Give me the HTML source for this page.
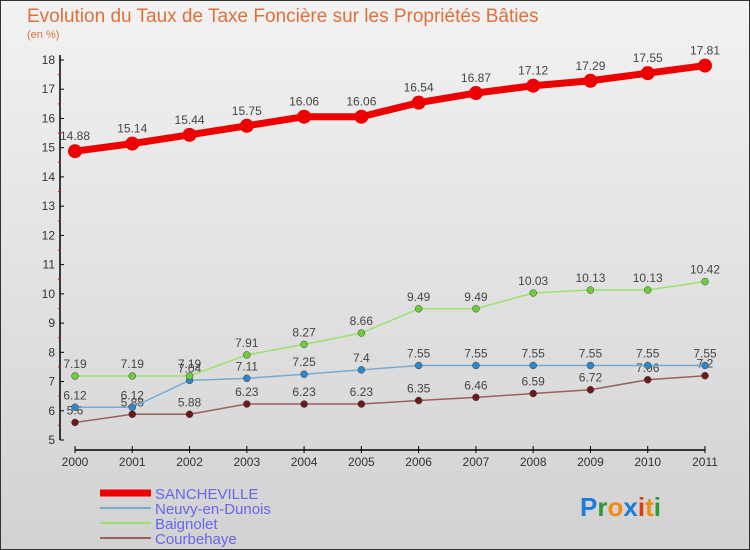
<!DOCTYPE html>
<html><head><meta charset="utf-8"><style>
body{margin:0;}
#wrap{width:750px;height:550px;position:relative;box-sizing:border-box;border:1px solid #333;background:linear-gradient(#f2f2f2,#d2d2d2);font-family:"Liberation Sans",sans-serif;overflow:hidden}
</style></head><body>
<div id="wrap">
<svg id="chart" width="750" height="550" style="position:absolute;left:-1px;top:-1px">
<text x="27" y="22" font-size="19" fill="#e0703a">Evolution du Taux de Taxe Foncière sur les Propriétés Bâties</text>
<text x="27" y="38" font-size="11" fill="#e0703a">(en %)</text>
<g id="axes"></g><g id="series"></g><g id="legend"></g>
<text x="580" y="516" font-size="26" font-weight="bold"><tspan fill="#1e7bd8">P</tspan><tspan fill="#2a9a3a">r</tspan><tspan fill="#f08a10">o</tspan><tspan fill="#1e7bd8">x</tspan><tspan fill="#e53a10">i</tspan><tspan fill="#f08a10">t</tspan><tspan fill="#2a9a3a">i</tspan></text>
</svg>
</div>
<script>
const years=["2000","2001","2002","2003","2004","2005","2006","2007","2008","2009","2010","2011"];
const yTicks=[5,6,7,8,9,10,11,12,13,14,15,16,17,18];
const sancheville=[14.88,15.14,15.44,15.75,16.06,16.06,16.54,16.87,17.12,17.29,17.55,17.81];
const neuvy=[6.12,6.12,7.04,7.11,7.25,7.4,7.55,7.55,7.55,7.55,7.55,7.55];
const baignolet=[7.19,7.19,7.19,7.91,8.27,8.66,9.49,9.49,10.03,10.13,10.13,10.42];
const courbehaye=[5.6,5.88,5.88,6.23,6.23,6.23,6.35,6.46,6.59,6.72,7.06,7.2];
const NS="http://www.w3.org/2000/svg";
function xs(i){return 75+i*(630/(years.length-1));}
function ys(v){return 440-(v-5)*29.23;}
function mk(t,a,p){const e=document.createElementNS(NS,t);for(const k in a)e.setAttribute(k,a[k]);p.appendChild(e);return e;}
const ax=document.getElementById('axes');
let l=mk('line',{x1:60,y1:ys(18)-5,x2:60,y2:ys(5),stroke:'#000','stroke-width':1.5},ax);


l=mk('line',{x1:xs(0),y1:450,x2:xs(11),y2:450,stroke:'#000','stroke-width':1.5},ax);


yTicks.forEach((v,i)=>{
 mk('line',{x1:60,y1:ys(v),x2:64,y2:ys(v),stroke:'#000'},ax);
 if(i<yTicks.length-1)mk('line',{x1:58,y1:ys(v+0.5),x2:61,y2:ys(v+0.5),stroke:'#e00'},ax);
 const t=mk('text',{x:55,y:ys(v)+4,'font-size':12,'text-anchor':'end',fill:'#333'},ax);
 t.textContent=v;
 
 
});
years.forEach((y,i)=>{
 mk('line',{x1:xs(i),y1:446,x2:xs(i),y2:453,stroke:'#000'},ax);
 const t=mk('text',{x:xs(i),y:466,'font-size':12,'text-anchor':'middle',fill:'#333'},ax);
 t.textContent=y;
 
 
});
const se=document.getElementById('series');
const defs=[["courbehaye",courbehaye,'#9a6060','#6a1a1a',1.5,3.5],["neuvy-en-dunois",neuvy,'#7aaad0','#2f86c8',1.5,3.5],["baignolet",baignolet,'#9ee070','#6ecb3a',1.5,3.5],["sancheville",sancheville,'#ee0000','#ee0000',7,7]];
defs.forEach(([n,d,lc,pc,w,r])=>{
 const g=mk('g',{},se);
 
 
 const p=mk('polyline',{points:d.map((v,i)=>xs(i)+','+ys(v)).join(' '),fill:'none',stroke:lc,'stroke-width':w},g);
 
 
 d.forEach((v,i)=>{
  const c=mk('circle',{cx:xs(i),cy:ys(v),r:r,fill:pc,stroke:w>2?'none':'#444','stroke-width':0.5},g);
  
  
  const t=mk('text',{x:xs(i),y:ys(v)-(w>2?11:8),'font-size':12,'text-anchor':'middle',fill:'#444'},g);
  t.textContent=String(v);
  
  
 });
});
const lg=document.getElementById('legend');
[["SANCHEVILLE",'#ee0000',7],["Neuvy-en-Dunois",'#7aaad0',2],["Baignolet",'#9ee070',2],["Courbehaye",'#9a6060',2]].forEach(([n,c,w],i)=>{
 const y=493+i*15;
 const s=mk('line',{x1:100,y1:y,x2:151,y2:y,stroke:c,'stroke-width':w},lg);
 
 
 const t=mk('text',{x:155,y:y+6,'font-size':15,fill:'#6666ee'},lg);
 t.textContent=n;
 
 
});
</script>
</body></html>
